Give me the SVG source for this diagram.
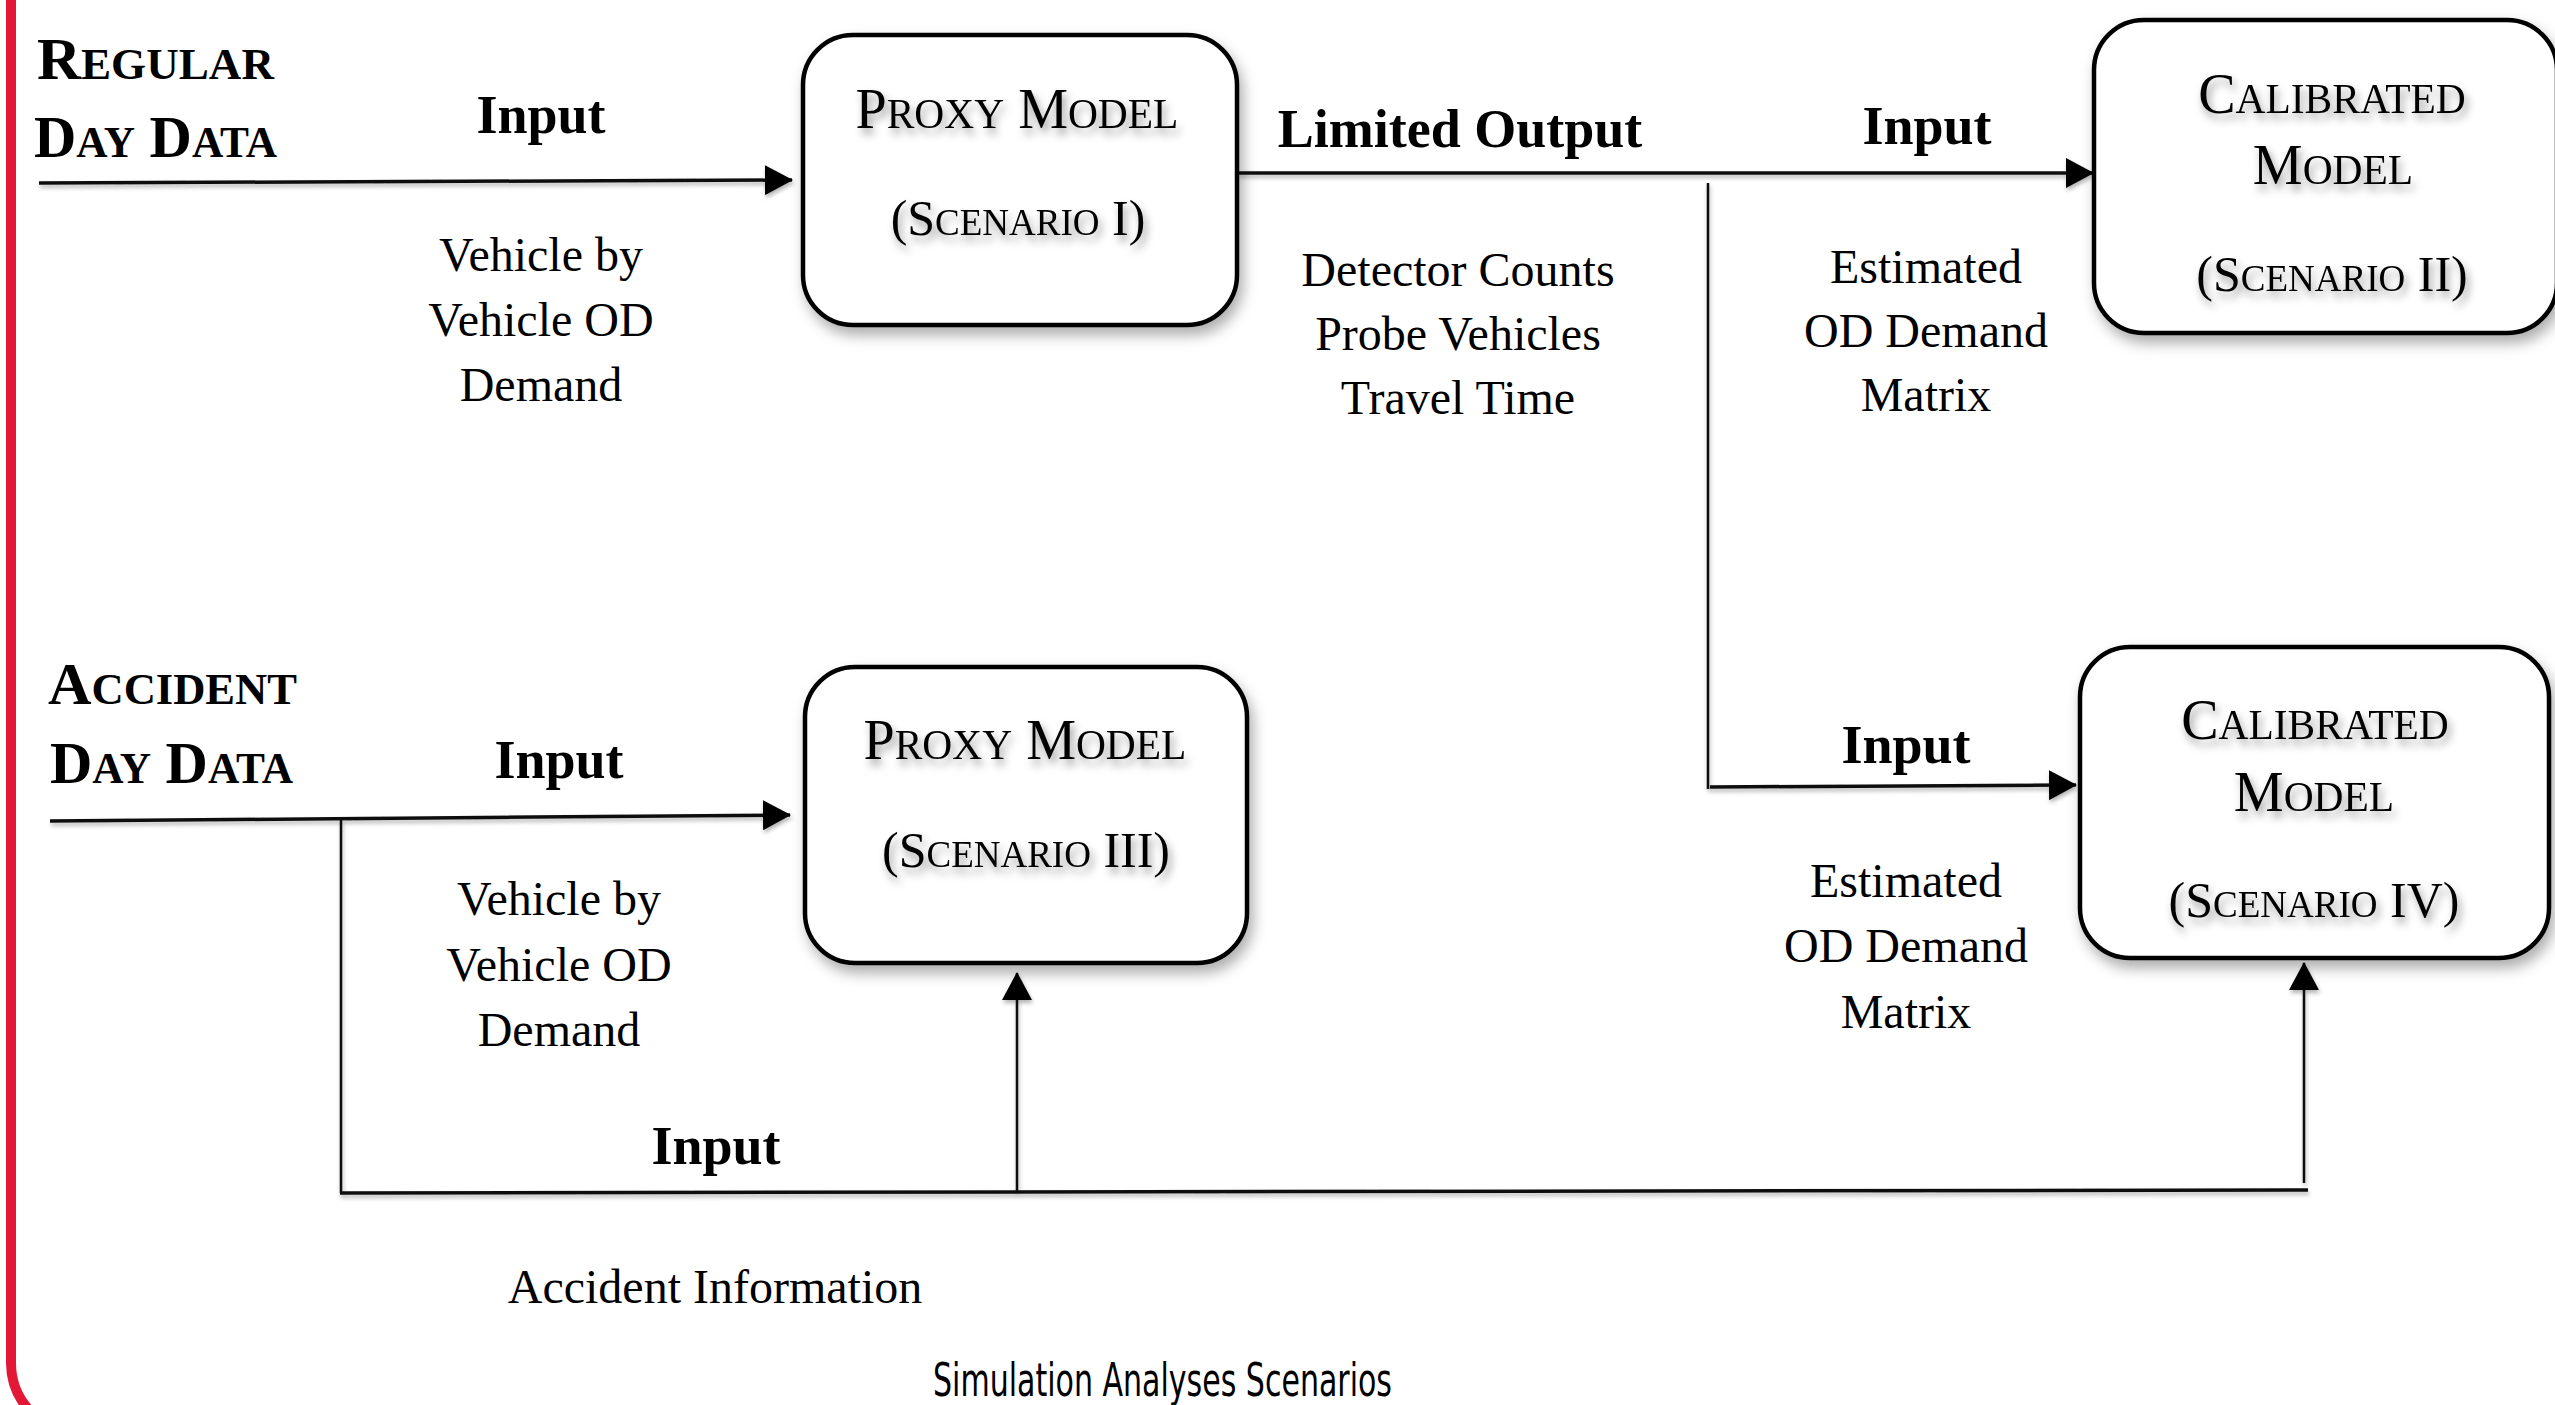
<svg xmlns="http://www.w3.org/2000/svg" width="2555" height="1405" viewBox="0 0 2555 1405">
  <defs>
    <style>
      .serif { font-family: "Liberation Serif", "Times New Roman", serif; fill: #000; }
      .src { font-weight: bold; font-size: 60px; }
      .lbl { font-weight: bold; font-size: 54px; text-anchor: middle; }
      .note { font-size: 48px; text-anchor: middle; }
      .title { font-size: 56px; text-anchor: middle; }
      .scen { font-size: 50px; text-anchor: middle; }
      .sc { font-size: 0.74em; }
      .box { fill: #fff; stroke: #000; stroke-width: 4.5; }
      .wire { fill: none; stroke: #111; stroke-width: 3.5; }
      .wire.thin { stroke-width: 2.5; }
      .caption { font-family: "Liberation Sans Narrow", "DejaVu Sans Condensed", "Liberation Sans", sans-serif; font-size: 46px; fill: #000; }
    </style>
    <filter id="boxShadow" x="-10%" y="-10%" width="125%" height="130%">
      <feDropShadow dx="4" dy="8" stdDeviation="7" flood-color="#000" flood-opacity="0.32"/>
    </filter>
    <filter id="textShadow" x="-10%" y="-30%" width="120%" height="180%">
      <feDropShadow dx="3" dy="6" stdDeviation="4" flood-color="#000" flood-opacity="0.4"/>
    </filter>
    <filter id="lineShadow" x="-5%" y="-5%" width="110%" height="110%">
      <feDropShadow dx="1" dy="3" stdDeviation="2" flood-color="#000" flood-opacity="0.3"/>
    </filter>
    <marker id="arrow" viewBox="0 0 28 30" refX="27" refY="15" markerWidth="28" markerHeight="30" markerUnits="userSpaceOnUse" orient="auto">
      <path d="M0,0 L28,15 L0,30 Z" fill="#000"/>
    </marker>
  </defs>

  <rect width="2555" height="1405" fill="#fff"/>

  <!-- card edge -->
  <path d="M11,-10 L11,1363 A70,70 0 0 0 81,1433" fill="none" stroke="#E31837" stroke-width="10"/>

  <!-- source labels -->
  <g id="regular-day-data" class="serif">
    <text class="src" x="37" y="79" textLength="237" lengthAdjust="spacingAndGlyphs">R<tspan class="sc">EGULAR</tspan></text>
    <text class="src" x="34" y="157" textLength="243" lengthAdjust="spacingAndGlyphs">D<tspan class="sc">AY</tspan> D<tspan class="sc">ATA</tspan></text>
  </g>
  <g id="accident-day-data" class="serif">
    <text class="src" x="48" y="704" textLength="249" lengthAdjust="spacingAndGlyphs">A<tspan class="sc">CCIDENT</tspan></text>
    <text class="src" x="50" y="783" textLength="243" lengthAdjust="spacingAndGlyphs">D<tspan class="sc">AY</tspan> D<tspan class="sc">ATA</tspan></text>
  </g>

  <!-- connectors -->
  <g id="connectors" filter="url(#lineShadow)">
    <path class="wire" d="M39,183 L792,180" marker-end="url(#arrow)"/>
    <path class="wire" d="M1237,173 L2093,173" marker-end="url(#arrow)"/>
    <path class="wire thin" d="M1708,183 L1708,789"/>
    <path class="wire" d="M1710,787 L2076,785" marker-end="url(#arrow)"/>
    <path class="wire" d="M50,821 L790,815" marker-end="url(#arrow)"/>
    <path class="wire thin" d="M341,818 L341,1193"/>
    <path class="wire" d="M340,1193 L2308,1190"/>
    <path class="wire thin" d="M1017,1192 L1017,973" marker-end="url(#arrow)"/>
    <path class="wire thin" d="M2304,1183 L2304,963" marker-end="url(#arrow)"/>
  </g>

  <!-- connector labels -->
  <g id="edge-labels" class="serif">
    <text class="lbl" x="541" y="133">Input</text>
    <text class="note" x="541" y="271">Vehicle by</text>
    <text class="note" x="541" y="336">Vehicle OD</text>
    <text class="note" x="541" y="401">Demand</text>

    <text class="lbl" x="1460" y="147">Limited Output</text>
    <text class="note" x="1458" y="286">Detector Counts</text>
    <text class="note" x="1458" y="350">Probe Vehicles</text>
    <text class="note" x="1458" y="414">Travel Time</text>

    <text class="lbl" x="1927" y="144">Input</text>
    <text class="note" x="1926" y="283">Estimated</text>
    <text class="note" x="1926" y="347">OD Demand</text>
    <text class="note" x="1926" y="411">Matrix</text>

    <text class="lbl" x="559" y="778">Input</text>
    <text class="note" x="559" y="915">Vehicle by</text>
    <text class="note" x="559" y="981">Vehicle OD</text>
    <text class="note" x="559" y="1046">Demand</text>

    <text class="lbl" x="1906" y="763">Input</text>
    <text class="note" x="1906" y="897">Estimated</text>
    <text class="note" x="1906" y="962">OD Demand</text>
    <text class="note" x="1906" y="1028">Matrix</text>

    <text class="lbl" x="716" y="1164">Input</text>
    <text class="note" x="715" y="1303">Accident Information</text>
  </g>

  <!-- model boxes -->
  <g id="proxy-model-scenario-1" class="serif">
    <rect class="box" x="803" y="35" width="434" height="290" rx="50" filter="url(#boxShadow)"/>
    <g filter="url(#textShadow)">
      <text class="title" x="1017" y="128">P<tspan class="sc">ROXY</tspan> M<tspan class="sc">ODEL</tspan></text>
      <text class="scen" x="1018" y="235">(S<tspan class="sc">CENARIO</tspan> I)</text>
    </g>
  </g>

  <g id="calibrated-model-scenario-2" class="serif">
    <rect class="box" x="2094" y="20" width="463" height="313" rx="50" filter="url(#boxShadow)"/>
    <g filter="url(#textShadow)">
      <text class="title" x="2332" y="113">C<tspan class="sc">ALIBRATED</tspan></text>
      <text class="title" x="2333" y="184">M<tspan class="sc">ODEL</tspan></text>
      <text class="scen" x="2332" y="291">(S<tspan class="sc">CENARIO</tspan> II)</text>
    </g>
  </g>

  <g id="proxy-model-scenario-3" class="serif">
    <rect class="box" x="805" y="667" width="442" height="296" rx="50" filter="url(#boxShadow)"/>
    <g filter="url(#textShadow)">
      <text class="title" x="1025" y="759">P<tspan class="sc">ROXY</tspan> M<tspan class="sc">ODEL</tspan></text>
      <text class="scen" x="1026" y="867">(S<tspan class="sc">CENARIO</tspan> III)</text>
    </g>
  </g>

  <g id="calibrated-model-scenario-4" class="serif">
    <rect class="box" x="2080" y="647" width="469" height="311" rx="50" filter="url(#boxShadow)"/>
    <g filter="url(#textShadow)">
      <text class="title" x="2315" y="739">C<tspan class="sc">ALIBRATED</tspan></text>
      <text class="title" x="2314" y="811">M<tspan class="sc">ODEL</tspan></text>
      <text class="scen" x="2314" y="917">(S<tspan class="sc">CENARIO</tspan> IV)</text>
    </g>
  </g>

  <!-- caption -->
  <text id="caption" class="caption" x="933" y="1396" textLength="459" lengthAdjust="spacingAndGlyphs">Simulation Analyses Scenarios</text>
</svg>
